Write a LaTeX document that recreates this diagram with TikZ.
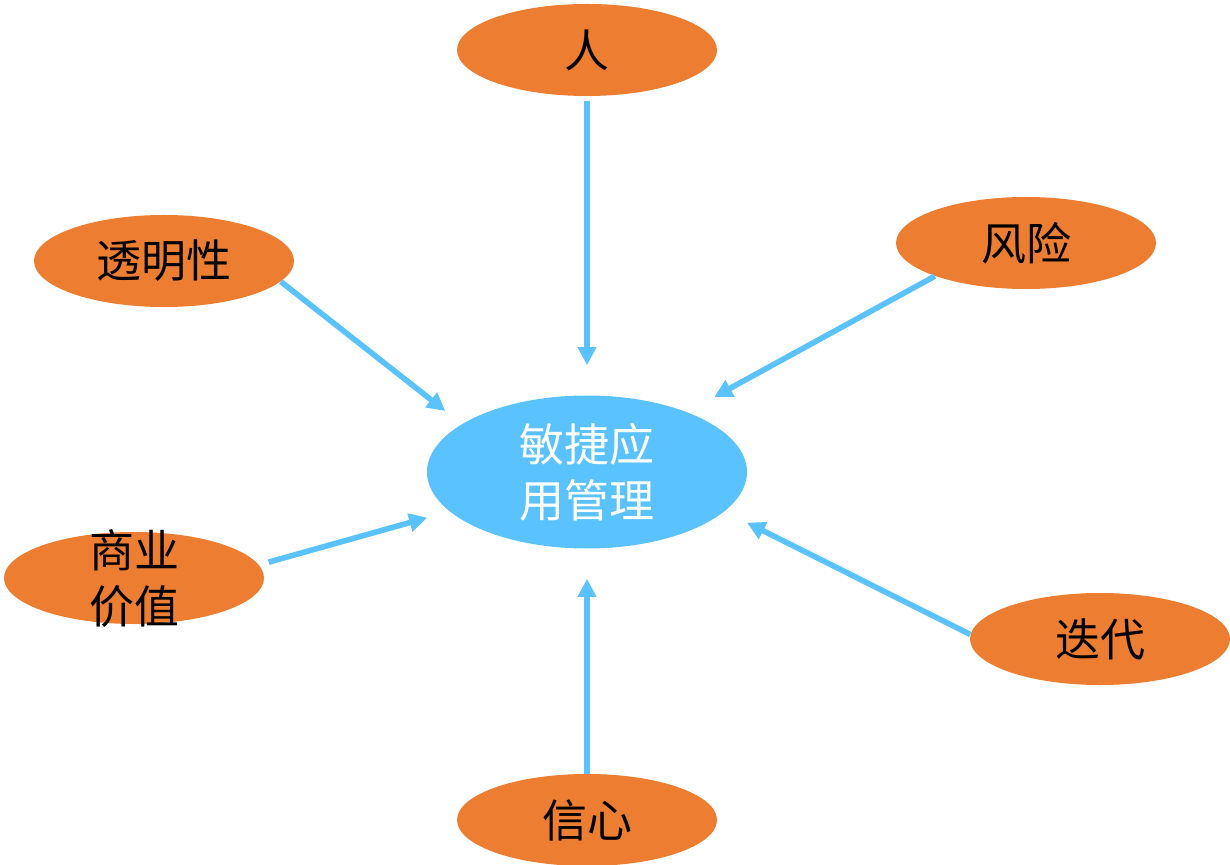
\documentclass[tikz,border=0pt]{standalone}
\usepackage{fontspec}
\newfontfamily\cjk{Noto Sans CJK SC}
\usetikzlibrary{arrows.meta,shapes.geometric}
\definecolor{topicfill}{HTML}{ED7D31}
\definecolor{corefill}{HTML}{5AC2FF}

\begin{document}
\begin{tikzpicture}[x=0.5pt,y=-0.5pt,
  topicfont/.style={font=\cjk\fontsize{22.5}{28}\selectfont,align=center},
  topic/.style={ellipse,fill=topicfill,inner sep=0pt,minimum width=130pt,minimum height=46pt,topicfont},
  core/.style={ellipse,fill=corefill,inner sep=0pt,minimum width=160pt,minimum height=76.5pt,topicfont,text=white},
  link/.style={draw=corefill,line width=2.8pt,-{Triangle[length=9pt,width=9pt]}}]
\useasboundingbox (0,0) rectangle (1230,865);
\node[core] (agile) at (587,472) {敏捷应\\用管理};
\node[topic] (ren) at (587,50) {人};
\node[topic] (tmx) at (164,261) {透明性};
\node[topic] (fx) at (1026,243) {风险};
\node[topic,label={[topicfont]center:商业\\价值}] (syjz) at (134,578) {};
\node[topic] (dd) at (1100,639) {迭代};
\node[topic] (xx) at (587,820) {信心};
\draw[link,shorten <=2.5pt,shorten >=15pt] (ren.south) -- (agile.north);
\draw[link,shorten >=10.5pt] (tmx.-10) -- (agile.159);
\draw[link,shorten >=15.5pt] (fx.200) -- (agile.31);
\draw[link,shorten <=5pt,shorten >=11.5pt] (syjz.6) -- (agile.196);
\draw[link,shorten >=12.5pt] (dd.178) -- (agile.-16);
\draw[link,shorten >=15pt] (xx.north) -- (agile.south);
\end{tikzpicture}
\end{document}
